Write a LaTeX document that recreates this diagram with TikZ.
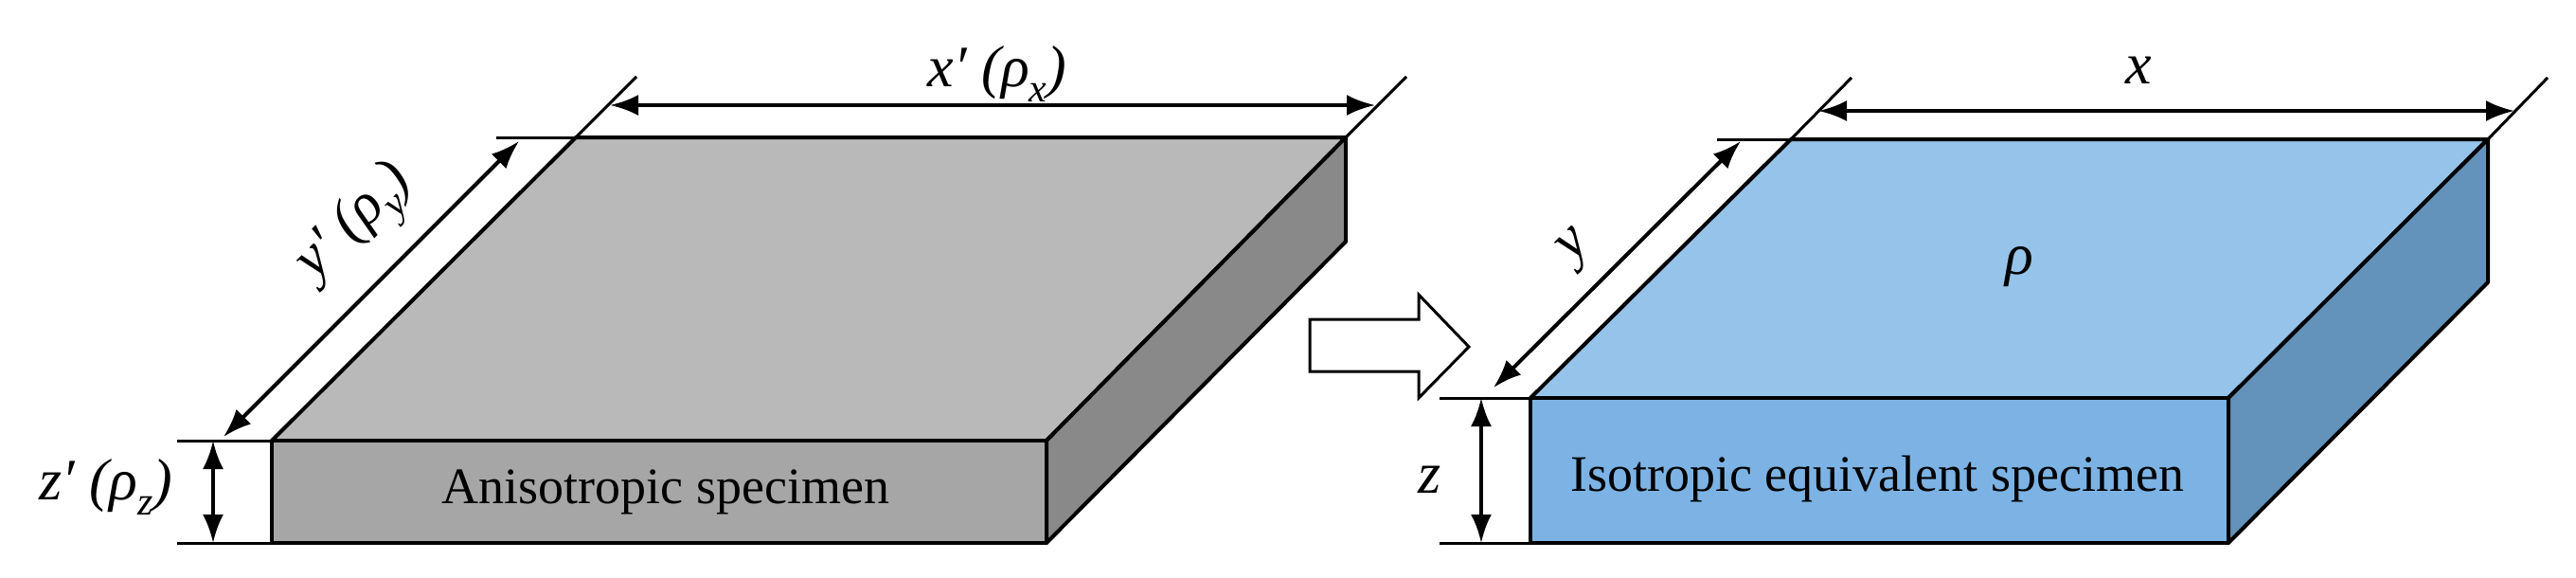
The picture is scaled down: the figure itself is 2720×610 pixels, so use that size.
\documentclass[tikz,border=0pt]{standalone}
\usepackage{fontspec}
\setmainfont{Liberation Serif}
\usetikzlibrary{arrows.meta}
\newcommand{\mysub}[1]{\raisebox{-0.25em}{\fontsize{42}{44}\selectfont\itshape #1}}
\begin{document}
\begin{tikzpicture}[x=1pt,y=-1pt,
  edge/.style={line width=4pt,line join=round},
  ext/.style={line width=3pt},
  dim/.style={line width=4pt,{Latex[length=30pt,width=22pt]}-{Latex[length=30pt,width=22pt]}},
  lab/.style={font=\fontsize{62}{66}\selectfont\itshape,inner sep=0pt},
  txt/.style={font=\fontsize{54}{60}\selectfont,inner sep=0pt}]
\useasboundingbox (0,0) rectangle (2720,610);
\definecolor{gtop}{HTML}{B9B9B9}\definecolor{gfr}{HTML}{A6A6A6}\definecolor{grt}{HTML}{898989}
\definecolor{btop}{HTML}{95C3EA}\definecolor{bfr}{HTML}{7CB3E4}\definecolor{brt}{HTML}{6392BB}
% ---- left box
\coordinate (A1) at (287,465); \coordinate (B1) at (1105,465);
\coordinate (C1) at (1105,573); \coordinate (D1) at (287,573);
\coordinate (E1) at (608,145); \coordinate (F1) at (1421,145);
\coordinate (G1) at (1421,255);
\filldraw[edge,fill=gtop] (A1)--(E1)--(F1)--(B1)--cycle;
\filldraw[edge,fill=grt] (B1)--(F1)--(G1)--(C1)--cycle;
\filldraw[edge,fill=gfr] (A1)--(B1)--(C1)--(D1)--cycle;
\node[txt] (t1) at (703,519) {Anisotropic specimen};
% ext lines
\coordinate (e1a) at (524,145); \coordinate (e1b) at (187,465); \coordinate (e1c) at (187,573);
\coordinate (e1d) at (672,81); \coordinate (e1e) at (1485,81);
\draw[ext] (e1a)--(E1); \draw[ext] (e1b)--(A1); \draw[ext] (e1c)--(D1);
\draw[ext] (E1)--(e1d); \draw[ext] (F1)--(e1e);
\coordinate (x1a) at (644,111); \coordinate (x1b) at (1452,111);
\draw[dim] (x1a)--(x1b);
\coordinate (y1a) at (236,461); \coordinate (y1b) at (548,149);
\draw[dim] (y1a)--(y1b);
\coordinate (z1a) at (225,465); \coordinate (z1b) at (225,573);
\draw[dim] (z1a)--(z1b);
\node[lab] (lx1) at (1053,78) {x′ (ρ\mysub{x})};
\node[lab,rotate=45] (ly1) at (378,238) {y′ (ρ\mysub{y})};
\node[lab] (lz1) at (112,514) {z′ (ρ\mysub{z})};
% ---- hollow arrow
\draw[line width=3pt,fill=white] (1383,337)--(1498,337)--(1498,311)--(1551,366)--(1498,420)--(1498,392)--(1383,392)--cycle;
% ---- right box
\coordinate (A2) at (1616,420); \coordinate (B2) at (2353,420);
\coordinate (C2) at (2353,573); \coordinate (D2) at (1616,573);
\coordinate (E2) at (1891,147); \coordinate (F2) at (2627,147);
\coordinate (G2) at (2627,298);
\filldraw[edge,fill=btop] (A2)--(E2)--(F2)--(B2)--cycle;
\filldraw[edge,fill=brt] (B2)--(F2)--(G2)--(C2)--cycle;
\filldraw[edge,fill=bfr] (A2)--(B2)--(C2)--(D2)--cycle;
\node[txt] (t2) at (1982,506) {Isotropic equivalent specimen};
\node[lab] (rho) at (2132,282) {ρ};
\coordinate (e2a) at (1813,147); \coordinate (e2b) at (1520,420); \coordinate (e2c) at (1520,573);
\coordinate (e2d) at (1955,82); \coordinate (e2e) at (2690,82);
\draw[ext] (e2a)--(E2); \draw[ext] (e2b)--(A2); \draw[ext] (e2c)--(D2);
\draw[ext] (E2)--(e2d); \draw[ext] (F2)--(e2e);
\coordinate (x2a) at (1920,117); \coordinate (x2b) at (2655,117);
\draw[dim] (x2a)--(x2b);
\coordinate (y2a) at (1577,409); \coordinate (y2b) at (1838,149);
\draw[dim] (y2a)--(y2b);
\coordinate (z2a) at (1564,420); \coordinate (z2b) at (1564,573);
\draw[dim] (z2a)--(z2b);
\node[lab] (lx2) at (2258,74) {x};
\node[lab,rotate=45] (ly2) at (1665,262) {y};
\node[lab] (lz2) at (1510,506) {z};
\end{tikzpicture}
\end{document}
